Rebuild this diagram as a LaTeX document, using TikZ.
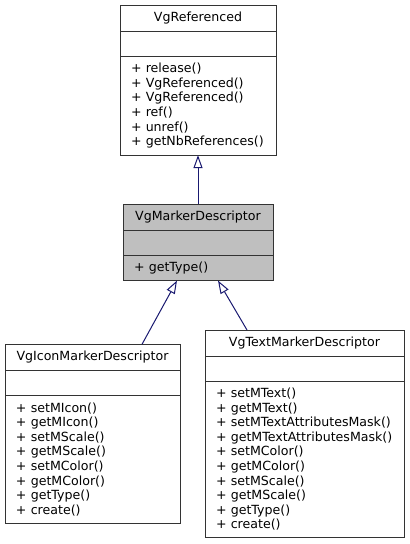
\documentclass[tikz,border=0pt]{standalone}
\usepackage{fontspec}
\setmainfont{DejaVu Sans}
\usetikzlibrary{positioning,arrows.meta}
\definecolor{edgeblue}{HTML}{191970}
\definecolor{boxgray}{HTML}{BFBFBF}

\begin{document}
\begin{tikzpicture}[x=1pt,y=-1pt,
    every node/.style={font=\fontsize{12.6}{14.6}\selectfont},
    part/.style={draw=black!80,line width=1pt,inner sep=0pt,outer sep=0pt,fill=white},
    title/.style={part,minimum height=26pt},
    blank/.style={part,minimum height=25pt},
    members/.style={part,align=left,inner xsep=11pt,inner ysep=0pt},
    inherit/.style={draw=edgeblue,line width=1pt,-{Triangle[open,length=13pt,width=9pt,fill=white]}}]
  \useasboundingbox (0,0) rectangle (410,544);
  % base class
  \node[title,minimum width=156pt,anchor=north west] (reft) at (120,5.5) {VgReferenced};
  \node[blank,minimum width=156pt,below=0pt of reft] (refb) {};
  \node[members,text width=134pt,minimum height=98.6pt,below=0pt of refb] (refm)
    {+ release()\\+ VgReferenced()\\+ VgReferenced()\\+ ref()\\+ unref()\\+ getNbReferences()};
  % marker descriptor
  \node[title,fill=boxgray,minimum width=150pt,anchor=north west] (markt) at (123,204) {VgMarkerDescriptor};
  \node[blank,fill=boxgray,minimum width=150pt,below=0pt of markt] (markb) {};
  \node[members,fill=boxgray,text width=128pt,minimum height=25.6pt,below=0pt of markb] (markm)
    {+ getType()};
  % icon marker
  \node[title,minimum width=175pt,anchor=north west] (icont) at (5,344.3) {VgIconMarkerDescriptor};
  \node[blank,minimum width=175pt,below=0pt of icont] (iconb) {};
  \node[members,text width=153pt,minimum height=127.8pt,below=0pt of iconb] (iconm)
    {+ setMIcon()\\+ getMIcon()\\+ setMScale()\\+ getMScale()\\+ setMColor()\\+ getMColor()\\+ getType()\\+ create()};
  % text marker
  \node[title,minimum width=199pt,anchor=north west] (textt) at (205,330) {VgTextMarkerDescriptor};
  \node[blank,minimum width=199pt,below=0pt of textt] (textb) {};
  \node[members,text width=177pt,minimum height=156.5pt,below=0pt of textb] (textm)
    {+ setMText()\\+ getMText()\\+ setMTextAttributesMask()\\+ getMTextAttributesMask()\\+ setMColor()\\+ getMColor()\\+ setMScale()\\+ getMScale()\\+ getType()\\+ create()};
  % inheritance
  \draw[inherit] (markt.north) -- (refm.south);
  \draw[inherit] ([xshift=-38pt]icont.north east) -- ([xshift=-21pt]markm.south);
  \draw[inherit] ([xshift=42pt]textt.north west) -- ([xshift=20pt]markm.south);
\end{tikzpicture}
\end{document}
